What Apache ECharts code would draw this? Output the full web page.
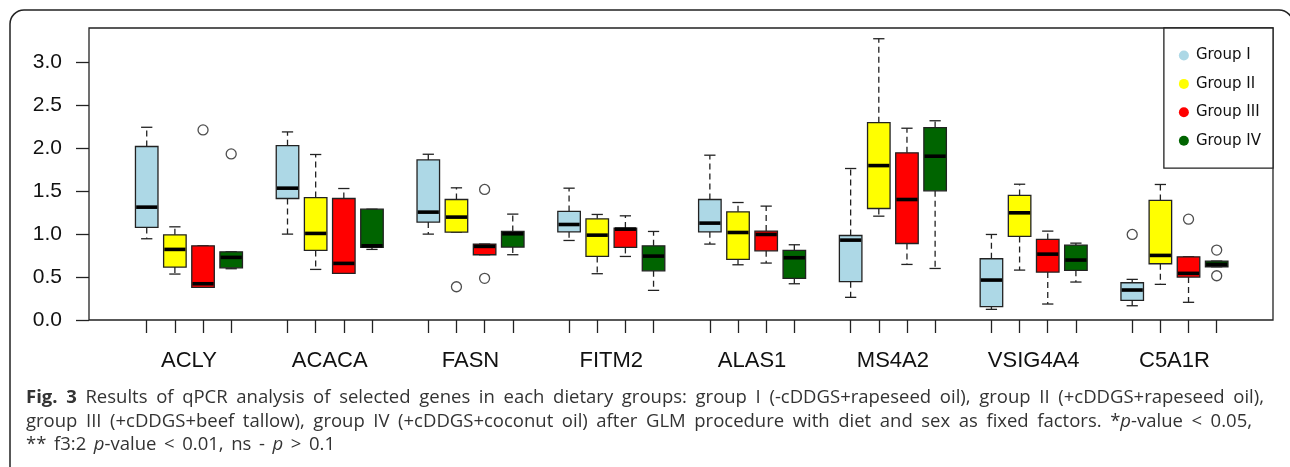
<!DOCTYPE html>
<html><head><meta charset="utf-8">
<script src="https://cdn.jsdelivr.net/npm/echarts@6/dist/echarts.min.js"></script>
<style>html,body{margin:0;padding:0;background:#fff;} #c{width:1290px;height:467px;}</style>
</head><body><div id="c"></div>
<script>
// ---------------- data ----------------
const genes = ['ACLY','ACACA','FASN','FITM2','ALAS1','MS4A2','VSIG4A4','C5A1R'];
const groupNames = ['Group I','Group II','Group III','Group IV'];
const groupColors = ['#ADD8E6','#FFFF00','#FF0000','#006400'];
const yTicks = [0, 0.5, 1.0, 1.5, 2.0, 2.5, 3.0];

// [lower whisker, Q1, median, Q3, upper whisker] per gene
const groupI = [
  [0.946,1.078,1.314,2.020,2.244],
  [1.000,1.415,1.535,2.030,2.190],
  [1.000,1.140,1.256,1.864,1.930],
  [0.926,1.027,1.112,1.264,1.535],
  [0.884,1.027,1.128,1.403,1.919],
  [0.264,0.446,0.930,0.984,1.764],
  [0.124,0.155,0.465,0.713,0.996],
  [0.166,0.229,0.349,0.434,0.473]
];
const groupII = [
  [0.535,0.616,0.822,0.992,1.085],
  [0.589,0.810,1.008,1.426,1.927],
  [1.023,1.023,1.198,1.403,1.539],
  [0.539,0.740,0.988,1.178,1.229],
  [0.643,0.705,1.019,1.260,1.368],
  [1.209,1.298,1.798,2.298,3.275],
  [0.581,0.973,1.248,1.450,1.581],
  [0.415,0.655,0.752,1.392,1.578]
];
const groupIII = [
  [0.380,0.380,0.422,0.864,0.864],
  [0.543,0.543,0.659,1.415,1.531],
  [0.760,0.760,0.857,0.884,0.884],
  [0.740,0.845,1.058,1.070,1.213],
  [0.663,0.806,0.996,1.035,1.326],
  [0.647,0.891,1.403,1.946,2.233],
  [0.186,0.558,0.767,0.938,1.035],
  [0.206,0.500,0.543,0.736,0.736]
];
const groupIV = [
  [0.597,0.608,0.729,0.794,0.794],
  [0.822,0.845,0.864,1.290,1.290],
  [0.760,0.849,1.004,1.031,1.233],
  [0.345,0.573,0.744,0.864,1.031],
  [0.422,0.485,0.725,0.810,0.876],
  [0.600,1.504,1.907,2.240,2.320],
  [0.442,0.578,0.698,0.872,0.895],
  [0.620,0.620,0.648,0.686,0.686]
];
// outliers: [gene index, group index, value]
const outliers = [
  [0,2,2.213],[0,3,1.934],
  [2,1,0.387],[2,2,1.520],[2,2,0.485],
  [7,0,0.996],[7,2,1.174],[7,3,0.814],[7,3,0.515]
];
const captionLines = [
  '{b|Fig. 3} Results of qPCR analysis of selected genes in each dietary groups: group I (-cDDGS+rapeseed oil), group II (+cDDGS+rapeseed oil),',
  'group III (+cDDGS+beef tallow), group IV (+cDDGS+coconut oil) after GLM procedure with diet and sex as fixed factors. *{i|p}-value < 0.05,',
  '** f3:2 {i|p}-value < 0.01, ns - {i|p} > 0.1'
];

// ---------------- helpers ----------------
const groupsData = [groupI, groupII, groupIII, groupIV];
const posOf = (g, s) => g * 5 + s + 1;
const tickPositions = [];
genes.forEach((_, g) => { for (let s = 0; s < 4; s++) tickPositions.push(posOf(g, s)); });
const labelPositions = genes.map((_, g) => posOf(g, 0) + 1.5);

const INK = '#222';
function renderBox(params, api) {
  const pos = api.value(0);
  const lo = api.value(1), q1 = api.value(2), med = api.value(3), q3 = api.value(4), hi = api.value(5);
  const w = api.size([0.8, 0])[0];
  const cx = api.coord([pos, 0])[0];
  const y = v => api.coord([pos, v])[1];
  const color = api.visual('color');
  const solid = { stroke: INK, lineWidth: 1.3, fill: null };
  const dash = { stroke: INK, lineWidth: 1.3, lineDash: [6, 4], fill: null };
  const cap = w / 2;
  return {
    type: 'group', children: [
      { type: 'line', shape: { x1: cx, y1: y(q3), x2: cx, y2: y(hi) }, style: dash },
      { type: 'line', shape: { x1: cx, y1: y(q1), x2: cx, y2: y(lo) }, style: dash },
      { type: 'line', shape: { x1: cx - cap / 2, y1: y(hi), x2: cx + cap / 2, y2: y(hi) }, style: solid },
      { type: 'line', shape: { x1: cx - cap / 2, y1: y(lo), x2: cx + cap / 2, y2: y(lo) }, style: solid },
      { type: 'rect', shape: { x: cx - w / 2, y: y(q3), width: w, height: y(q1) - y(q3) },
        style: { fill: color, stroke: INK, lineWidth: 1.3 } },
      { type: 'line', shape: { x1: cx - w / 2 + 0.7, y1: y(med), x2: cx + w / 2 - 0.7, y2: y(med) },
        style: { stroke: '#000', lineWidth: 3.6, fill: null } }
    ]
  };
}

const series = groupsData.map((gd, s) => ({
  name: groupNames[s],
  type: 'custom',
  renderItem: renderBox,
  itemStyle: { color: groupColors[s] },
  encode: { x: 0, y: [1, 2, 3, 4, 5] },
  data: gd.map((st, g) => [posOf(g, s)].concat(st)),
  z: 3
}));
series.push({
  name: 'outliers',
  type: 'scatter',
  symbol: 'circle',
  symbolSize: 10,
  itemStyle: { color: '#fff', borderColor: INK, borderWidth: 1.3 },
  data: outliers.map(o => [posOf(o[0], o[1]), o[2]]),
  z: 4
});

// ---------------- caption (justified words) ----------------
const CAP_SIZE = 18.5, CAP_FAMILY = '"Open Sans", "Noto Sans", sans-serif', CAP_COLOR = '#333';
const measCtx = document.createElement('canvas').getContext('2d');
function fontOf(st) {
  return (st === 'i' ? 'italic ' : '') + (st === 'b' ? 'bold ' : '') + CAP_SIZE + 'px ' + CAP_FAMILY;
}
function parseLine(line) {
  const runs = []; const re = /\{(b|i)\|([^}]*)\}|([^{]+)/g; let m;
  while ((m = re.exec(line))) { if (m[1]) runs.push({ t: m[2], s: m[1] }); else runs.push({ t: m[3], s: 'n' }); }
  const words = [[]];
  runs.forEach(r => {
    r.t.split(' ').forEach((p, i) => {
      if (i > 0) words.push([]);
      if (p) words[words.length - 1].push({ t: p, s: r.s });
    });
  });
  return words.filter(w => w.length);
}
function runWidth(r) { measCtx.font = fontOf(r.s); return measCtx.measureText(r.t).width; }
const capLeft = 26;
const capRights = [1264, 1252, 335];
const capYs = [398, 421.5, 444.5];
const captionGraphics = [];
captionLines.forEach((line, li) => {
  const words = parseLine(line);
  const widths = words.map(w => w.reduce((a, r) => a + runWidth(r), 0));
  const total = widths.reduce((a, b) => a + b, 0);
  measCtx.font = fontOf('n');
  let gap = measCtx.measureText(' ').width;
  if (capRights[li] !== null) gap = Math.max(gap * 0.8, (capRights[li] - capLeft - total) / (words.length - 1));
  let x = capLeft;
  words.forEach((w, wi) => {
    let rx = x;
    w.forEach(r => {
      captionGraphics.push({
        type: 'text', x: rx, y: capYs[li], silent: true,
        style: {
          text: r.t, fill: CAP_COLOR, fontSize: CAP_SIZE, fontFamily: CAP_FAMILY,
          fontWeight: r.s === 'b' ? 'bold' : 'normal', fontStyle: r.s === 'i' ? 'italic' : 'normal',
          verticalAlign: 'middle', align: 'left'
        }
      });
      rx += runWidth(r);
    });
    x += widths[wi] + gap;
  });
});

// ---------------- chart ----------------
const chart = echarts.init(document.getElementById('c'), null, { renderer: 'canvas' });
chart.setOption({
  animation: false,
  backgroundColor: '#fff',
  grid: { left: 89, top: 28, width: 1184, height: 292, show: true, borderColor: INK, borderWidth: 1.3, backgroundColor: 'transparent' },
  xAxis: {
    type: 'value', min: -1.05, max: 41,
    axisLine: { show: false, onZero: false }, splitLine: { show: false },
    axisTick: { show: true, length: 13, lineStyle: { color: INK, width: 1.3 }, customValues: tickPositions },
    axisLabel: {
      customValues: labelPositions,
      formatter: v => genes[Math.round((v - 2.5) / 5)],
      fontSize: 22, color: '#111', fontFamily: '"Liberation Sans", Arial, sans-serif', margin: 30
    }
  },
  yAxis: {
    type: 'value', min: 0, max: 3.4,
    axisLine: { show: false, onZero: false }, splitLine: { show: false },
    axisTick: { show: true, length: 13, lineStyle: { color: INK, width: 1.3 }, customValues: yTicks },
    axisLabel: {
      customValues: yTicks, formatter: v => v.toFixed(1),
      fontSize: 21, color: '#111', fontFamily: '"Liberation Sans", Arial, sans-serif', margin: 27
    }
  },
  legend: {
    orient: 'vertical', right: 17, top: 28,
    padding: [20, 12, 20, 15],
    borderColor: INK, borderWidth: 1.3, backgroundColor: '#fff',
    itemWidth: 10, itemHeight: 10, itemGap: 13.4,
    icon: 'circle',
    data: groupNames.map((n, i) => ({ name: n, itemStyle: { color: groupColors[i] } })),
    textStyle: { fontSize: 15, color: '#111', fontFamily: '"DejaVu Sans", sans-serif', lineHeight: 14, padding: [0, 0, 0, 2] },
    selectedMode: false
  },
  graphic: [
    { type: 'rect', shape: { x: 10, y: 10, width: 1283, height: 470, r: 14 },
      style: { fill: null, stroke: INK, lineWidth: 1.5 }, silent: true, z: -10 }
  ].concat(captionGraphics),
  series: series
});
</script>
</body></html>
